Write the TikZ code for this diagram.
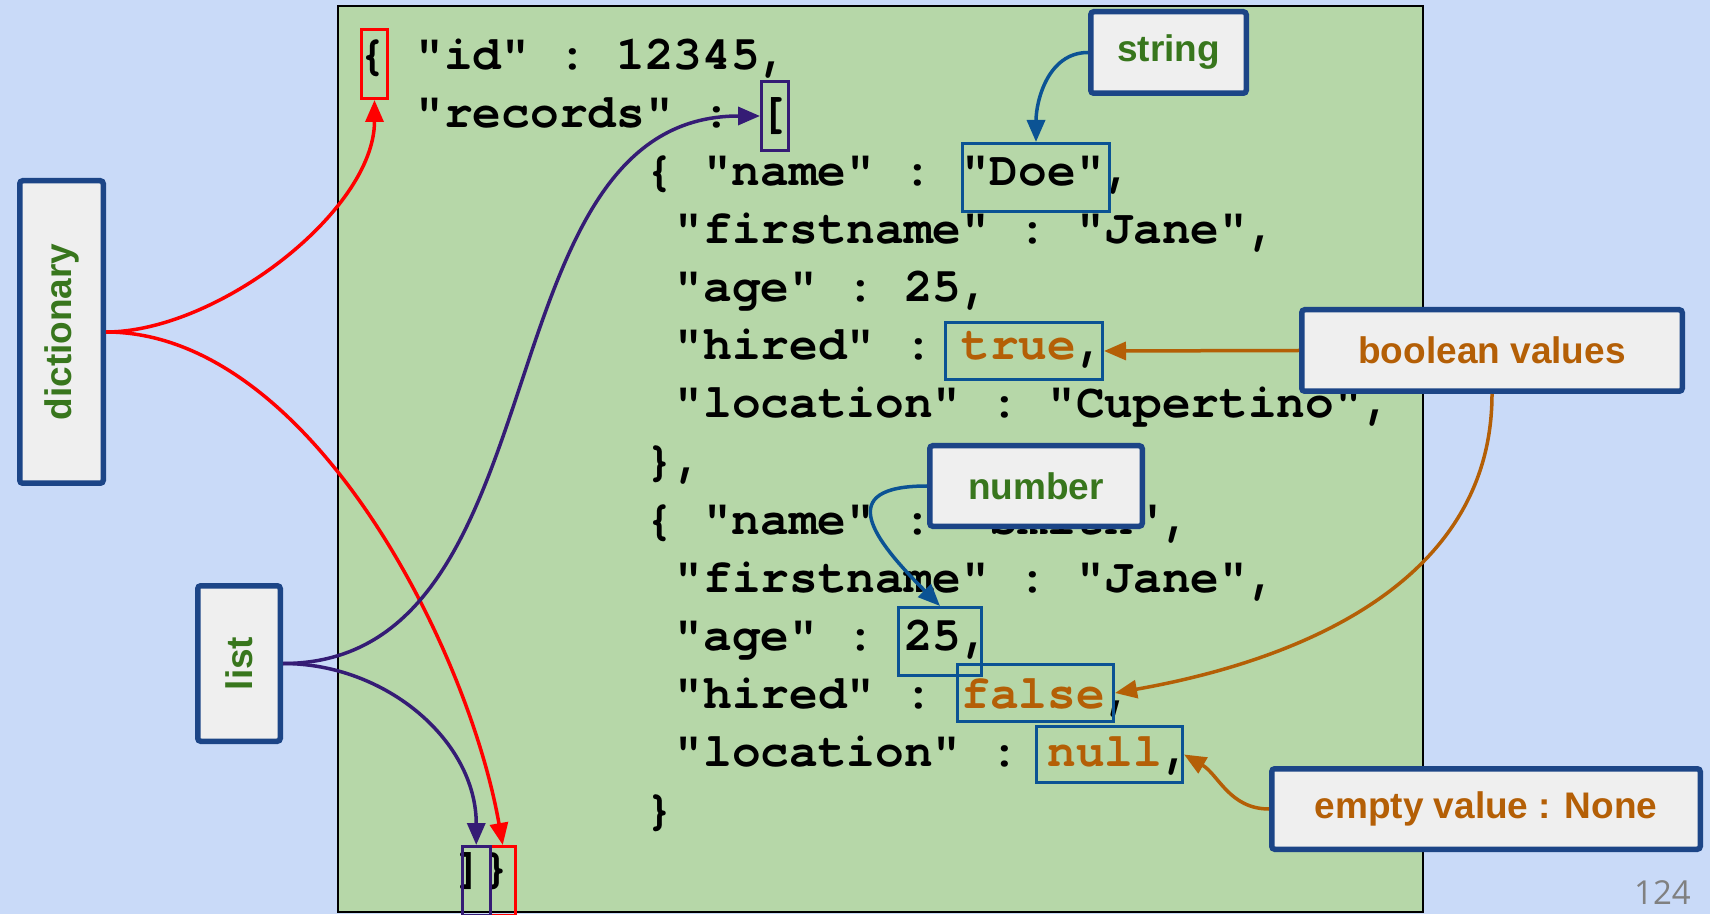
\documentclass[tikz,border=0pt]{standalone}
\usepackage{fontspec}
\setmainfont{Liberation Sans}
\newfontfamily\monofont{TeX Gyre Cursor}[WordSpace={1,0,0}, Ligatures=NoCommon]
\newfontfamily\pagefont{Open Sans}
\usetikzlibrary{arrows.meta}

\definecolor{slideblue}{HTML}{C9DAF8}
\definecolor{codegreen}{HTML}{B6D7A8}
\definecolor{tagborder}{HTML}{1C4587}
\definecolor{tagfill}{HTML}{EFEFEF}
\definecolor{taggreen}{HTML}{38761D}
\definecolor{valorange}{HTML}{B45F06}
\definecolor{markblue}{HTML}{0B5394}
\definecolor{listpurple}{HTML}{351C75}

\tikzset{
  codeline/.style={anchor=base west, inner sep=0pt,
    font=\monofont\bfseries\frenchspacing\fontsize{47.8}{58}\selectfont},
  hlbox/.style={draw, line width=3pt, inner sep=0pt},
  tagbox/.style={draw=tagborder, fill=tagfill, line width=5.5pt,
    rounded corners=3pt, inner sep=0pt,
    font=\bfseries\fontsize{37}{44}\selectfont},
  link/.style={line width=3.5pt, -{Triangle[length=22pt,width=18pt]}},
}

\begin{document}
\begin{tikzpicture}[x=1pt, y=1pt]
\useasboundingbox (0,0) rectangle (1710,914);
\clip (0,0) rectangle (1710,914);
\fill [slideblue] (0,0) rectangle (1710,914);
\draw [fill=codegreen, draw=black, line width=1.5pt] (338,2) rectangle (1423,908);

% the json text
\path (358, 844) node (l0) [codeline] {\{ "id" : 12345,};
\path (415.4, 786) node (l1) [codeline] {"records" : [};
\path (645.6, 728) node (l2) [codeline] {\{ "name" : "Doe",};
\path (674.5, 670) node (l3) [codeline] {"firstname" : "Jane",};
\path (674.5, 612) node (l4) [codeline] {"age" : 25,};
\path (674.5, 554) node (l5) [codeline]
  {"hired" : \textcolor{valorange}{true},};
\path (674.5, 496) node (l6) [codeline] {"location" : "Cupertino",};
\path (645.6, 438) node (l7) [codeline] {\},};
\path (645.6, 380) node (l8) [codeline] {\{ "name" : "Smith",};
\path (674.5, 322) node (l9) [codeline] {"firstname" : "Jane",};
\path (674.5, 264) node (l10) [codeline] {"age" : 25,};
\path (674.5, 206) node (l11) [codeline]
  {"hired" : \textcolor{valorange}{false},};
\path (674.5, 148) node (l12) [codeline]
  {"location" : \textcolor{valorange}{null},};
\path (645.6, 90) node (l13) [codeline] {\}};
\path (454, 32) node (l14) [codeline] {]\}};

% marks round the values
\path (374.5, 850) node (brace) [hlbox, draw=red,
  minimum width=26pt, minimum height=69pt] {};
\path (775, 798) node (lbrack) [hlbox, draw=listpurple,
  minimum width=27pt, minimum height=69pt] {};
\path (1036, 736.5) node (doe) [hlbox, draw=markblue,
  minimum width=147pt, minimum height=68pt] {};
\path (1024, 563) node (truebox) [hlbox, draw=markblue,
  minimum width=157pt, minimum height=57pt] {};
\path (940, 272.5) node (age) [hlbox, draw=markblue,
  minimum width=83pt, minimum height=68pt] {};
\path (1035.5, 221) node (falsebox) [hlbox, draw=markblue,
  minimum width=156pt, minimum height=57pt] {};
\path (1109.5, 159.5) node (nullbox) [hlbox, draw=markblue,
  minimum width=146pt, minimum height=56pt] {};
\path (502.75, 33) node (rbrace) [hlbox, draw=red,
  minimum width=25.5pt, minimum height=69pt] {};
\path (476.25, 33) node (rbrack) [hlbox, draw=listpurple,
  minimum width=27.5pt, minimum height=69pt] {};

% labels
\path (61.5, 582) node (dictionary) [tagbox, rotate=90, text=taggreen,
  minimum width=302.5pt, minimum height=83.5pt] {dictionary};
\path (239, 250.5) node (list) [tagbox, rotate=90, text=taggreen,
  minimum width=155.5pt, minimum height=82.5pt] {list};
\path (1168.5, 861.5) node (string) [tagbox, text=taggreen,
  minimum width=155.5pt, minimum height=81.5pt] {string};
\path (1492, 563.5) node (boolean) [tagbox, text=valorange,
  minimum width=380.5pt, minimum height=81.5pt] {boolean values};
\path (1036, 428) node (number) [tagbox, text=taggreen,
  minimum width=212.5pt, minimum height=80.5pt] {number};
\path (1486, 105) node (empty) [tagbox, text=valorange,
  minimum width=428.5pt, minimum height=80.5pt] {empty value : None};

\path (1691, 10) node (page) [anchor=base east, inner sep=0pt, text=gray,
  font=\pagefont\fontsize{33}{40}\selectfont] {124};

% arrows
\path[link, red]
  (dictionary.south) edge [out=0, in=-90, looseness=0.8] (brace.south);
\path[link, red]
  (dictionary.south) edge [out=0, in=100, looseness=0.8] (rbrace.north);
\path[link, listpurple] (list.south) edge [out=0, in=180] (lbrack.west);
\path[link, listpurple] (list.south) edge [out=0, in=90] (rbrack.north);
\path[link, markblue] (string.west) edge [out=180, in=90] (doe.north);
\path[link, valorange] (boolean.west) edge (truebox.east);
\path[link, valorange] (boolean.south) edge [out=-90, in=10] (falsebox.east);
\path[link, markblue]
  (number.west) edge [out=180, in=135, looseness=2] (age.north);
\path[link, valorange] (empty.west) edge [out=180, in=-30] (nullbox.east);

\end{tikzpicture}
\end{document}
